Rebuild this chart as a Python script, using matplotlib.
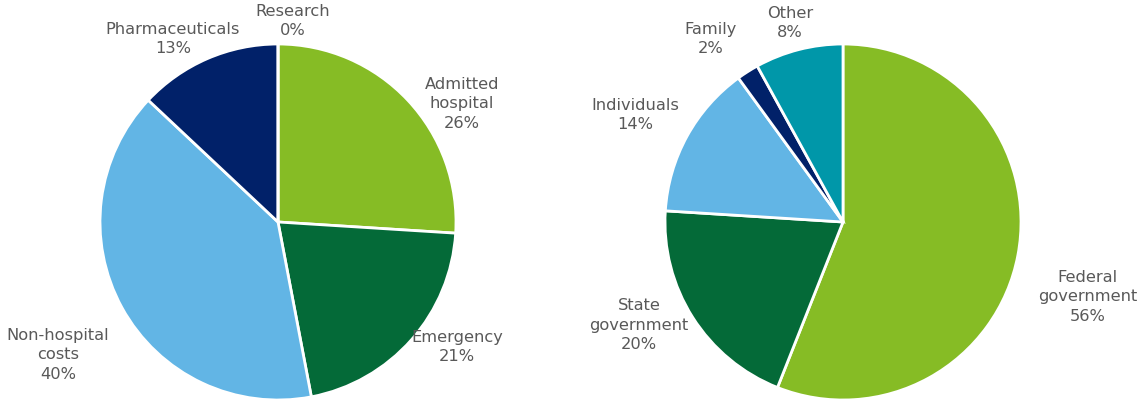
import matplotlib
matplotlib.use("Agg")
import matplotlib.pyplot as plt

# Data
left_labels = ["Admitted\nhospital", "Emergency", "Non-hospital\ncosts", "Pharmaceuticals", "Research"]
left_values = [26, 21, 40, 13, 0]
right_labels = ["Federal\ngovernment", "State\ngovernment", "Individuals", "Family", "Other"]
right_values = [56, 20, 14, 2, 8]

colors = ["#86BC25", "#046A38", "#62B5E5", "#012169", "#0097A9"]
left_colors = colors[:4] + ["#0097A9"]
right_colors = colors

# label positions (in pie radius units)
left_label_pos = [(1.034, 0.663), (1.006, -0.702), (-1.236, -0.747), (-0.59, 1.028), (0.084, 1.129)]
right_label_pos = [(1.376, -0.421), (-1.146, -0.579), (-1.166, 0.601), (-0.744, 1.028), (-0.298, 1.118)]

W, H = 1139, 403
fig = plt.figure(figsize=(W / 100, H / 100), dpi=100)
R = 178

def make_axes(cx, cy):
    return fig.add_axes([(cx - R) / W, (H - cy - R) / H, 2 * R / W, 2 * R / H])

def draw(ax, labels, values, cols, pos):
    ax.pie(values, colors=cols, startangle=90, counterclock=False,
           wedgeprops=dict(edgecolor="white", linewidth=2))
    ax.set_xlim(-1, 1)
    ax.set_ylim(-1, 1)
    ax.set_aspect("equal")
    ax.axis("off")
    for lab, v, (x, y) in zip(labels, values, pos):
        ax.text(x, y, f"{lab}\n{v}%", ha="center", va="center", fontsize=11.7,
                color="#595959", linespacing=1.4, clip_on=False,
                family="DejaVu Sans")

axl = make_axes(278, 222)
draw(axl, left_labels, left_values, left_colors, left_label_pos)
axr = make_axes(843, 222)
draw(axr, right_labels, right_values, right_colors, right_label_pos)

fig.savefig("out.png", dpi=100)
